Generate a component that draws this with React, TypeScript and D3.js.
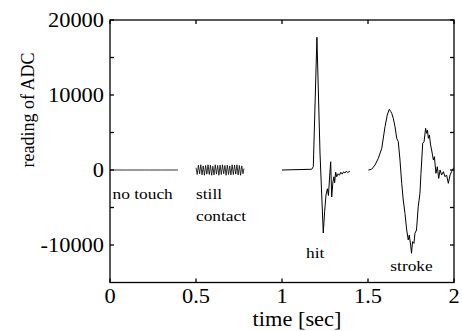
import React from "react";
import * as d3 from "d3";

// readings (time [sec], ADC value)
const noTouch: [number, number][] = [
  [0, 0], [0.1, 0], [0.2, 0], [0.3, 0], [0.395, 0],
];

const stillContact: [number, number][] = [
  [0.5, 300], [0.507, -600], [0.514, 650], [0.521, -500], [0.528, 700], [0.535, -650],
  [0.542, 550], [0.549, -700], [0.556, 600], [0.563, -550], [0.57, 700], [0.577, -600],
  [0.584, 650], [0.591, -700], [0.598, 500], [0.605, -650], [0.612, 700], [0.619, -550],
  [0.626, 600], [0.633, -700], [0.64, 650], [0.647, -600], [0.654, 700], [0.661, -500],
  [0.668, 600], [0.675, -700], [0.682, 650], [0.689, -600], [0.696, 550], [0.703, -650],
  [0.71, 700], [0.717, -600], [0.724, 650], [0.731, -550], [0.738, 700], [0.745, -650],
  [0.752, 600], [0.759, -700], [0.766, 550], [0.773, -500], [0.779, 200],
];

const hit: [number, number][] = [
  [1.0, 0], [1.173, 100], [1.182, 450], [1.203, 17700], [1.221, 2260], [1.24, -8400],
  [1.248, -5500], [1.256, -3300], [1.264, -2500], [1.27, -3400], [1.276, -1200],
  [1.283, 1100], [1.289, -3600], [1.296, -1600], [1.302, -900], [1.306, -1700],
  [1.312, -300], [1.318, -900], [1.326, -500], [1.334, -700], [1.342, -300],
  [1.35, -550], [1.358, -250], [1.366, -400], [1.374, -150], [1.382, -350], [1.395, -150],
];

const stroke: [number, number][] = [
  [1.502, 0], [1.521, 100], [1.541, 670], [1.56, 1560], [1.58, 2890], [1.599, 5780],
  [1.612, 7330], [1.624, 8090], [1.632, 7800], [1.638, 7560], [1.647, 6890], [1.657, 5780],
  [1.667, 4220], [1.676, 3780], [1.686, 1330], [1.696, -1780], [1.705, -4000], [1.715, -5780],
  [1.725, -8000], [1.734, -9330], [1.74, -8670], [1.748, -10000], [1.753, -11100],
  [1.759, -9560], [1.767, -9780], [1.773, -8440], [1.782, -8000], [1.792, -4890],
  [1.802, -3110], [1.808, -440], [1.818, 3560], [1.826, 3780], [1.835, 5560], [1.841, 4890],
  [1.846, 5300], [1.851, 4220], [1.857, 4670], [1.864, 3330], [1.87, 2670], [1.88, 1330],
  [1.886, 1780], [1.895, -440], [1.903, 440], [1.911, -1110], [1.919, 0], [1.928, -670],
  [1.938, -220], [1.948, -890], [1.957, -670], [1.967, -1780], [1.977, -670], [1.986, -220],
  [1.996, 220], [2.0, 300],
];

const xTicks = [0, 0.5, 1, 1.5, 2];
const xTickLabels = ["0", "0.5", "1", "1.5", "2"];
const yTicks = [-10000, -5000, 0, 5000, 10000, 15000, 20000];
const yTickLabels = ["-10000", "", "0", "", "10000", "", "20000"];

const notes = [
  { lines: ["no touch"], t: 0.015, v: -3900 },
  { lines: ["still", "contact"], t: 0.5, v: -3900 },
  { lines: ["hit"], t: 1.14, v: -11700 },
  { lines: ["stroke"], t: 1.63, v: -13500 },
];

const W = 462;
const H = 331;
const font = '"Liberation Serif", "Times New Roman", Times, "DejaVu Serif", serif';
const SX = 1.12; // glyphs in the picture are a bit wider than tall

function T({ x, y, size, anchor = "start", children }: any) {
  return (
    <text
      transform={`translate(${x},${y}) scale(${SX},1)`}
      textAnchor={anchor}
      fill="#000"
      style={{ fontFamily: font, fontSize: size }}
    >
      {children}
    </text>
  );
}

export default function App() {
  const x = d3.scaleLinear().domain([0, 2]).range([110, 454]);
  const y = d3.scaleLinear().domain([-15000, 20000]).range([282.5, 20]);
  const line = d3
    .line<[number, number]>()
    .x((d) => x(d[0]))
    .y((d) => y(d[1]));

  const [x0, x1] = x.range();
  const [y0, y1] = y.range();
  const tk = 4;

  return (
    <svg
      width={W}
      height={H}
      style={{ position: "absolute", left: 0, top: 0, background: "#fff" }}
    >
      {/* series */}
      <g fill="none" stroke="#000" strokeWidth={1}>
        <path d={line(noTouch) || ""} strokeWidth={0.8} />
        <path d={line(stillContact) || ""} strokeWidth={0.8} />
        <path d={line(hit) || ""} />
        <path d={line(stroke) || ""} />
      </g>

      {/* frame and ticks */}
      <g stroke="#000" strokeWidth={1.3} fill="none">
        <rect x={x0} y={y1} width={x1 - x0} height={y0 - y1} />
        {xTicks.map((t, i) => (
          <g key={"xt" + i}>
            <line x1={x(t)} x2={x(t)} y1={y0} y2={y0 - tk} />
            <line x1={x(t)} x2={x(t)} y1={y1} y2={y1 + tk} />
          </g>
        ))}
        {yTicks.map((t, i) => (
          <g key={"yt" + i}>
            <line x1={x0} x2={x0 + tk} y1={y(t)} y2={y(t)} />
            <line x1={x1} x2={x1 - tk} y1={y(t)} y2={y(t)} />
          </g>
        ))}
      </g>

      {/* tick labels */}
      {xTicks.map((t, i) => (
        <T key={"xl" + i} x={x(t)} y={303} size={20} anchor="middle">
          {xTickLabels[i]}
        </T>
      ))}
      {yTicks.map((t, i) =>
        yTickLabels[i] ? (
          <T key={"yl" + i} x={104} y={y(t) + 7} size={20} anchor="end">
            {yTickLabels[i]}
          </T>
        ) : null
      )}

      {/* annotations */}
      {notes.map((n, i) =>
        n.lines.map((s, j) => (
          <T key={"n" + i + j} x={x(n.t)} y={y(n.v) + j * 22} size={15.5}>
            {s}
          </T>
        ))
      )}

      {/* axis titles */}
      <T x={297} y={326} size={20} anchor="middle">
        time [sec]
      </T>
      <text
        transform="translate(34,110) rotate(-90)"
        textAnchor="middle"
        fill="#000"
        style={{ fontFamily: font, fontSize: 18 }}
      >
        reading of ADC
      </text>
    </svg>
  );
}
